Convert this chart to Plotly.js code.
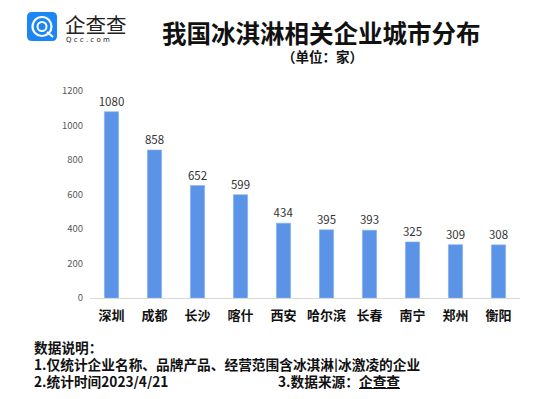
<!DOCTYPE html>
<html><head><meta charset="utf-8">
<script src="https://cdn.plot.ly/plotly-3.0.1.min.js"></script>
<style>html,body{margin:0;padding:0;background:#fff}#c{width:554px;height:399px}</style>
</head><body><div id="c"></div>
<script>
const cities = ["深圳","成都","长沙","喀什","西安","哈尔滨","长春","南宁","郑州","衡阳"];
const counts = [1080,858,652,599,434,395,393,325,309,308];
const yTicks = [0,200,400,600,800,1000,1200];
const titleText = "我国冰淇淋相关企业城市分布";
const unitText = "（单位：家）";
const notes = ["数据说明：","1.仅统计企业名称、品牌产品、经营范围含冰淇淋|冰激凌的企业","2.统计时间2023/4/21","3.数据来源：<u>企查查</u>"];

const CJK = '"Noto Sans CJK SC", "Noto Sans", sans-serif';
const L=90, R=520, T=91, B=298, W=R-L, H=B-T;
const px = x => (x-L)/W;
const py = y => (B-y)/H;

const trace = {
  type:'bar', x:cities, y:counts,
  marker:{color:'#5B94E6', line:{color:'#86B0EE', width:0.6}},
  text:counts.map(String), textposition:'outside', cliponaxis:false, constraintext:'none',
  textfont:{family:CJK, size:11.5, color:'#333'},
  hoverinfo:'none'
};
function ann(text, x, y, size, opts){
  return Object.assign({text:text, xref:'paper', yref:'paper', x:px(x), y:py(y), showarrow:false,
    font:{family:CJK, size:size, color:'#111'}, xanchor:'left', yanchor:'middle', borderpad:0}, opts||{});
}
const layout = {
  width:554, height:399, margin:{l:L, r:554-R, t:T, b:399-B},
  paper_bgcolor:'#fff', plot_bgcolor:'#fff', showlegend:false,
  bargap:0.67,
  xaxis:{type:'category', showline:true, linecolor:'#d9d9d9', linewidth:1, ticks:'',
    tickfont:{family:CJK, size:13, color:'#111', weight:'bold'}, ticklabelstandoff:5},
  yaxis:{range:[0,1200], tickvals:yTicks, showgrid:false, zeroline:false, showline:false,
    tickfont:{family:CJK, size:9.5, color:'#595959'}, ticklabelstandoff:6},
  shapes:[
    {type:'path', xref:'paper', yref:'paper', layer:'above',
     path:'M'+px(32)+','+py(12)+' L'+px(52)+','+py(12)+' Q'+px(57)+','+py(12)+' '+px(57)+','+py(17)+
          ' L'+px(57)+','+py(36)+' Q'+px(57)+','+py(41)+' '+px(52)+','+py(41)+
          ' L'+px(32)+','+py(41)+' Q'+px(27)+','+py(41)+' '+px(27)+','+py(36)+
          ' L'+px(27)+','+py(17)+' Q'+px(27)+','+py(12)+' '+px(32)+','+py(12)+' Z',
     fillcolor:'#1C87F4', line:{width:0}},
    {type:'circle', xref:'paper', yref:'paper', x0:px(32.5), x1:px(51.5), y0:py(17), y1:py(36),
     line:{color:'#fff', width:2.2}, layer:'above'},
    {type:'circle', xref:'paper', yref:'paper', x0:px(37.5), x1:px(46.5), y0:py(22), y1:py(31),
     line:{color:'#fff', width:2}, layer:'above'},
    {type:'line', xref:'paper', yref:'paper', x0:px(47), x1:px(53), y0:py(32), y1:py(37),
     line:{color:'#fff', width:2.2}, layer:'above'}
  ],
  annotations:[
    ann('<b>'+titleText+'</b>', 321.5, 32, 24.5, {xanchor:'center'}),
    ann('<b>'+unitText+'</b>', 322, 56, 13.5, {xanchor:'center'}),
    ann('企查查', 64, 23.5, 20.5, {font:{family:CJK, size:20.5, color:'#222'}, height:21}),
    ann('Q c c . c o m', 65, 39.5, 7, {font:{family:'DejaVu Sans, sans-serif', size:7, color:'#222'}, height:8}),
    ann('<b>'+notes[0]+'</b>', 33, 347, 13.7, {height:16}),
    ann('<b>'+notes[1]+'</b>', 33, 364, 13.7, {height:16}),
    ann('<b>'+notes[2]+'</b>', 33, 380.5, 13.7, {height:16}),
    ann('<b>'+notes[3]+'</b>', 277, 380.5, 13.7, {height:16})
  ]
};
Plotly.newPlot('c',[trace],layout,{staticPlot:true, displayModeBar:false});
</script></body></html>
